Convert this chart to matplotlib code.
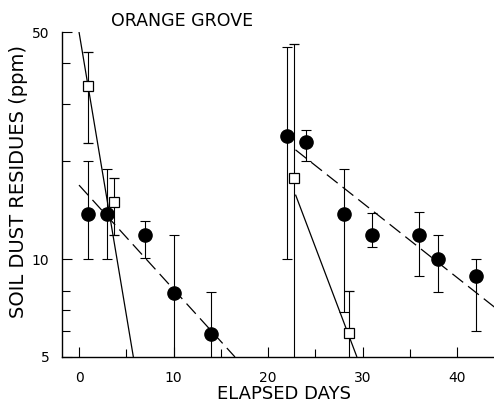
import numpy as np
import matplotlib
matplotlib.use('Agg')
from matplotlib import pyplot as plt
from matplotlib.ticker import FixedLocator, NullFormatter

# filled circles: day, value, lower / upper end of error bar
circle_days = [1, 3, 7, 10, 14, 22, 24, 28, 31, 36, 38, 42]
circle_vals = [13.8, 13.8, 11.9, 7.85, 5.9, 23.9, 23.0, 13.8, 11.9, 11.9, 10.0, 8.9]
circle_low = [10.0, 10.0, 10.1, 4.0, 4.0, 10.0, 20.0, 6.9, 10.9, 8.9, 7.9, 6.0]
circle_high = [20.0, 19.0, 13.1, 11.9, 7.9, 45.0, 25.0, 18.9, 13.9, 14.0, 11.9, 10.0]

# open squares
square_days = [1, 3.7, 22.7, 28.6]
square_vals = [34.1, 15.0, 17.8, 5.94]
square_low = [22.8, 11.9, 4.0, 4.0]
square_high = [43.3, 17.8, 46.0, 8.0]

# fitted lines (start day, end day, start value, end value)
dash_fits = [(0, 16.5, 16.9, 5.0), (22.9, 44.0, 21.7, 7.1)]
solid_fits = [(0, 5.75, 50.0, 5.0), (22.9, 29.4, 15.8, 5.0)]

x_ticks = [0, 10, 20, 30, 40]
x_minor = [5, 15, 25, 35]
y_ticks = [5, 10, 50]
y_tick_labels = ['5', '10', '50']
y_minor = [6, 7, 8, 20, 30, 40]


def fit_line(ax, fit, style):
    d0, d1, v0, v1 = fit
    t = np.array([d0, d1])
    v = np.array([v0, v1])
    ln, = ax.plot(t, v, color='black', lw=0.9, solid_capstyle='butt')
    if style == 'dash':
        ln.set_dashes((11, 5))
    return ln


def main():
    fig = plt.figure(figsize=(4.94, 4.03), dpi=100)
    ax = fig.add_axes([62 / 494, 46 / 403, 432 / 494, 325 / 403])
    ax.set_yscale('log')
    ax.set_xlim(-1.8, 43.9)
    ax.set_ylim(5, 50)

    for f in dash_fits:
        fit_line(ax, f, 'dash')
    for f in solid_fits:
        fit_line(ax, f, 'solid')

    c_vals = np.array(circle_vals)
    c_err = [c_vals - np.array(circle_low), np.array(circle_high) - c_vals]
    ax.errorbar(circle_days, c_vals, yerr=c_err, fmt='o', color='black',
                ms=9.5, elinewidth=0.8, capsize=3.3, capthick=0.8, zorder=3)

    s_vals = np.array(square_vals)
    s_err = [s_vals - np.array(square_low), np.array(square_high) - s_vals]
    ax.errorbar(square_days, s_vals, yerr=s_err, fmt='s', color='black',
                mfc='white', mec='black', mew=0.9, ms=6.5,
                elinewidth=0.8, capsize=3.3, capthick=0.8, zorder=4)

    ax.spines['top'].set_visible(False)
    ax.spines['right'].set_visible(False)
    for s in ['left', 'bottom']:
        ax.spines[s].set_linewidth(1.0)

    ax.xaxis.set_major_locator(FixedLocator(x_ticks))
    ax.xaxis.set_minor_locator(FixedLocator(x_minor))
    ax.set_xticklabels([str(v) for v in x_ticks])
    ax.yaxis.set_major_locator(FixedLocator(y_ticks))
    ax.yaxis.set_minor_locator(FixedLocator(y_minor))
    ax.set_yticklabels(y_tick_labels)
    ax.yaxis.set_minor_formatter(NullFormatter())

    ax.tick_params(axis='both', which='both', direction='in', width=0.8,
                   labelsize=10)
    ax.tick_params(axis='both', which='major', length=7)
    ax.tick_params(axis='both', which='minor', length=6)
    ax.tick_params(axis='x', pad=10)
    ax.tick_params(axis='y', pad=9)

    fig.text(182 / 494, 1 - 21 / 403, 'ORANGE GROVE', ha='center', va='center',
             fontsize=12.5)
    fig.text(284 / 494, 1 - 394 / 403, 'ELAPSED DAYS', ha='center', va='center',
             fontsize=13)
    fig.text(19 / 494, 1 - 181 / 403, 'SOIL DUST RESIDUES (ppm)', ha='center',
             va='center', rotation=90, fontsize=14)

    fig.savefig('out.png', dpi=100)


if __name__ == '__main__':
    main()
